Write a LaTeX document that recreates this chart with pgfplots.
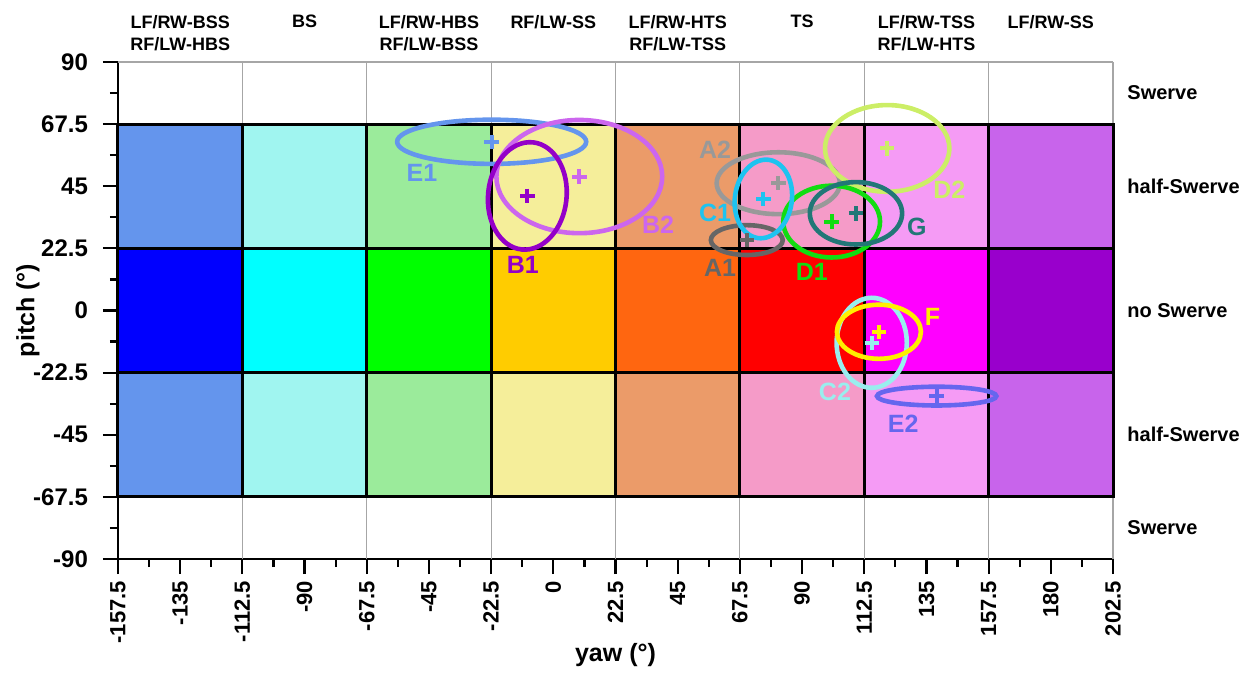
\documentclass[border=0pt]{standalone}
\usepackage{pgfplots}
\pgfplotsset{compat=1.18}
\usepackage{fontspec}
\setmainfont{Liberation Sans}

% cell fills, upper/lower bands
\definecolor{lA}{HTML}{6495ED}
\definecolor{lB}{HTML}{A0F5F0}
\definecolor{lC}{HTML}{9BEB9B}
\definecolor{lD}{HTML}{F5EE9A}
\definecolor{lE}{HTML}{EB9B69}
\definecolor{lF}{HTML}{F59BC8}
\definecolor{lG}{HTML}{F59BF5}
\definecolor{lH}{HTML}{C864EB}
% cell fills, middle band
\definecolor{mA}{HTML}{0000FF}
\definecolor{mB}{HTML}{00FFFF}
\definecolor{mC}{HTML}{00FF00}
\definecolor{mD}{HTML}{FFCC00}
\definecolor{mE}{HTML}{FF6610}
\definecolor{mF}{HTML}{FF0000}
\definecolor{mG}{HTML}{FF00FF}
\definecolor{mH}{HTML}{9900CC}
% region colours
\definecolor{cE1}{HTML}{6495ED}
\definecolor{cB1}{HTML}{9400C8}
\definecolor{cB2}{HTML}{CC66EE}
\definecolor{cA2}{HTML}{999999}
\definecolor{cC1}{HTML}{1EC3F0}
\definecolor{cA1}{HTML}{666666}
\definecolor{cD1}{HTML}{11DD11}
\definecolor{cG}{HTML}{227777}
\definecolor{cD2}{HTML}{CCEE66}
\definecolor{cF}{HTML}{FFEE00}
\definecolor{cC2}{HTML}{99EEEE}
\definecolor{cE2}{HTML}{6666EE}

\tikzset{
  colname/.style={anchor=north, align=center, inner sep=0pt, yshift=23.5pt, font=\bfseries\fontsize{9}{11}\selectfont},
  bandname/.style={anchor=west, inner sep=0pt, xshift=7pt, font=\bfseries\fontsize{10}{12}\selectfont},
}
\pgfplotsset{
  guide/.style={gray!70, line width=0.6pt, forget plot},
  cellline/.style={black, line width=1.5pt, line cap=rect, forget plot},
}

% one cell: colour, x0, x1, y0, y1
\newcommand{\cell}[5]{\addplot[draw=none, fill=#1, forget plot] coordinates {(#2,#4) (#3,#4) (#3,#5) (#2,#5)} -- cycle;}
% one region: colour, cx, cy, rx, ry, tilt, label x, label y, label
\newcommand{\region}[9]{%
  \draw[#1, line width=2.3pt, rotate around={#6:(axis cs:#2,#3)}] (axis cs:#2,#3) ellipse [x radius=#4, y radius=#5];
  \addplot[#1, only marks, mark=+, mark size=3.6pt, line width=2pt, forget plot] coordinates {(#2,#3)};
  \node[text=#1, font=\bfseries\fontsize{12.5}{14}\selectfont] at (axis cs:#7,#8) {#9};
}

\begin{document}
\begin{tikzpicture}[font=\bfseries]
\begin{axis}[
  name=ax,
  scale only axis,
  width=497.5pt, height=248.5pt,
  xmin=-157.5, xmax=202.5, ymin=-90, ymax=90,
  axis lines=left,
  x axis line style={-}, y axis line style={-},
  axis line style={line width=1.4pt, black},
  tick align=outside,
  major tick length=7.5pt, minor tick length=4pt,
  every tick/.style={black, line width=1.1pt},
  xtick={-157.5,-135,-112.5,-90,-67.5,-45,-22.5,0,22.5,45,67.5,90,112.5,135,157.5,180,202.5},
  ytick={-90,-67.5,-45,-22.5,0,22.5,45,67.5,90},
  minor x tick num=1, minor y tick num=1,
  /pgf/number format/assume math mode=true,
  /pgf/number format/fixed, /pgf/number format/precision=1,
  yticklabel style={font=\bfseries\fontsize{12}{14}\selectfont},
  xticklabel style={rotate=90, anchor=east, font=\bfseries\fontsize{11}{13}\selectfont},
  yticklabel shift=4pt,
  xlabel={yaw (°)}, ylabel={pitch (°)},
  every axis x label/.style={at={(axis description cs:0.5,-0.193)}, anchor=center, font=\bfseries\fontsize{12.5}{14}\selectfont},
  every axis y label/.style={at={(axis description cs:-0.0905,0.5)}, rotate=90, anchor=center, font=\bfseries\fontsize{12.5}{14}\selectfont},
  clip=false,
]
% thin grey guides
\addplot[guide] coordinates {(-157.5,90) (202.5,90)};
\addplot[guide] coordinates {(-112.5,-90) (-112.5,90)};
\addplot[guide] coordinates {(-67.5,-90) (-67.5,90)};
\addplot[guide] coordinates {(-22.5,-90) (-22.5,90)};
\addplot[guide] coordinates {(22.5,-90) (22.5,90)};
\addplot[guide] coordinates {(67.5,-90) (67.5,90)};
\addplot[guide] coordinates {(112.5,-90) (112.5,90)};
\addplot[guide] coordinates {(157.5,-90) (157.5,90)};
\addplot[guide] coordinates {(202.5,-90) (202.5,90)};

% upper band
\cell{lA}{-157.5}{-112.5}{22.5}{67.5}
\cell{lB}{-112.5}{-67.5}{22.5}{67.5}
\cell{lC}{-67.5}{-22.5}{22.5}{67.5}
\cell{lD}{-22.5}{22.5}{22.5}{67.5}
\cell{lE}{22.5}{67.5}{22.5}{67.5}
\cell{lF}{67.5}{112.5}{22.5}{67.5}
\cell{lG}{112.5}{157.5}{22.5}{67.5}
\cell{lH}{157.5}{202.5}{22.5}{67.5}
% middle band
\cell{mA}{-157.5}{-112.5}{-22.5}{22.5}
\cell{mB}{-112.5}{-67.5}{-22.5}{22.5}
\cell{mC}{-67.5}{-22.5}{-22.5}{22.5}
\cell{mD}{-22.5}{22.5}{-22.5}{22.5}
\cell{mE}{22.5}{67.5}{-22.5}{22.5}
\cell{mF}{67.5}{112.5}{-22.5}{22.5}
\cell{mG}{112.5}{157.5}{-22.5}{22.5}
\cell{mH}{157.5}{202.5}{-22.5}{22.5}
% lower band
\cell{lA}{-157.5}{-112.5}{-67.5}{-22.5}
\cell{lB}{-112.5}{-67.5}{-67.5}{-22.5}
\cell{lC}{-67.5}{-22.5}{-67.5}{-22.5}
\cell{lD}{-22.5}{22.5}{-67.5}{-22.5}
\cell{lE}{22.5}{67.5}{-67.5}{-22.5}
\cell{lF}{67.5}{112.5}{-67.5}{-22.5}
\cell{lG}{112.5}{157.5}{-67.5}{-22.5}
\cell{lH}{157.5}{202.5}{-67.5}{-22.5}

% black cell borders
\addplot[cellline] coordinates {(-157.5,67.5) (202.5,67.5)};
\addplot[cellline] coordinates {(-157.5,22.5) (202.5,22.5)};
\addplot[cellline] coordinates {(-157.5,-22.5) (202.5,-22.5)};
\addplot[cellline] coordinates {(-157.5,-67.5) (202.5,-67.5)};
\addplot[cellline] coordinates {(-157.5,-67.5) (-157.5,67.5)};
\addplot[cellline] coordinates {(-112.5,-67.5) (-112.5,67.5)};
\addplot[cellline] coordinates {(-67.5,-67.5) (-67.5,67.5)};
\addplot[cellline] coordinates {(-22.5,-67.5) (-22.5,67.5)};
\addplot[cellline] coordinates {(22.5,-67.5) (22.5,67.5)};
\addplot[cellline] coordinates {(67.5,-67.5) (67.5,67.5)};
\addplot[cellline] coordinates {(112.5,-67.5) (112.5,67.5)};
\addplot[cellline] coordinates {(157.5,-67.5) (157.5,67.5)};
\addplot[cellline] coordinates {(202.5,-67.5) (202.5,67.5)};

% regions: colour, centre, half-widths, tilt, label position, label
\region{cE1}{-22.3}{61.1}{34.2}{8.0}{0}{-47.5}{49.8}{E1}
\region{cB2}{9.4}{48.5}{30.0}{20.5}{0}{37.9}{31.0}{B2}
\region{cB1}{-9.4}{41.5}{14.2}{19.5}{-6}{-11.0}{16.5}{B1}
\region{cA2}{81.4}{46.1}{22.3}{11.2}{0}{58.5}{58.1}{A2}
\region{cA1}{70.0}{25.5}{13.0}{5.4}{0}{60.3}{15.3}{A1}
\region{cD2}{120.8}{58.7}{22.5}{15.7}{0}{143.3}{43.6}{D2}
\region{cD1}{100.7}{32.2}{17.5}{13.0}{0}{93.5}{14.1}{D1}
\region{cG}{109.5}{35.2}{16.7}{11.3}{0}{131.5}{30.4}{G}
\region{cC1}{76.0}{40.4}{10.3}{14.3}{-8}{58.5}{35.2}{C1}
\region{cC2}{115.2}{-11.7}{12.7}{16.3}{0}{101.9}{-29.4}{C2}
\region{cF}{117.8}{-7.7}{15.2}{9.8}{0}{137.2}{-2.2}{F}
\region{cE2}{138.7}{-31.0}{21.6}{3.4}{0}{126.6}{-40.9}{E2}

% column names
\node[colname] at (axis cs:-135,90) {LF/RW-BSS\\RF/LW-HBS};
\node[colname] at (axis cs:-90,90) {BS};
\node[colname] at (axis cs:-45,90) {LF/RW-HBS\\RF/LW-BSS};
\node[colname] at (axis cs:0,90) {RF/LW-SS};
\node[colname] at (axis cs:45,90) {LF/RW-HTS\\RF/LW-TSS};
\node[colname] at (axis cs:90,90) {TS};
\node[colname] at (axis cs:135,90) {LF/RW-TSS\\RF/LW-HTS};
\node[colname] at (axis cs:180,90) {LF/RW-SS};

% band names
\node[bandname] at (axis cs:202.5,78.75) {Swerve};
\node[bandname] at (axis cs:202.5,45) {half-Swerve};
\node[bandname] at (axis cs:202.5,0) {no Swerve};
\node[bandname] at (axis cs:202.5,-45) {half-Swerve};
\node[bandname] at (axis cs:202.5,-78.75) {Swerve};
\end{axis}
\pgfresetboundingbox
\path ([shift={(-59pt,-57pt)}]ax.south west) rectangle ([shift={(68.5pt,31pt)}]ax.north east);
\end{tikzpicture}
\end{document}
